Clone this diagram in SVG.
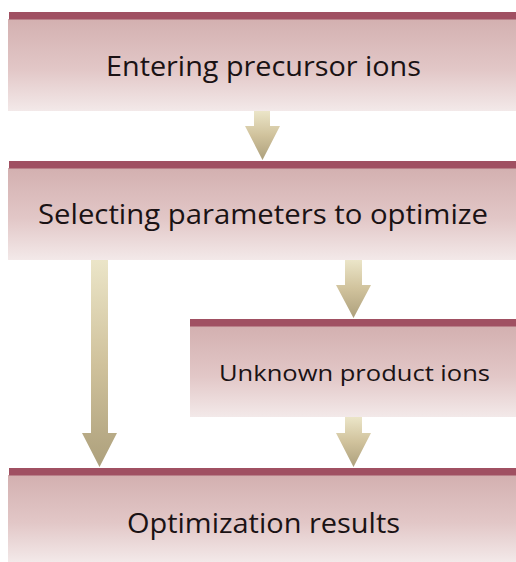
<svg xmlns="http://www.w3.org/2000/svg" width="516" height="562" viewBox="0 0 516 562">
  <defs>
    <linearGradient id="boxFill" x1="0" y1="0" x2="0" y2="1">
      <stop offset="0" stop-color="#d3b0b0"/>
      <stop offset="0.55" stop-color="#e2c7c7"/>
      <stop offset="1" stop-color="#f3e9e9"/>
    </linearGradient>
    <linearGradient id="arrowFill" x1="0" y1="0" x2="0" y2="1">
      <stop offset="0" stop-color="#ebe5c8"/>
      <stop offset="0.5" stop-color="#d0c29c"/>
      <stop offset="1" stop-color="#ada07c"/>
    </linearGradient>
  </defs>
  <style>
    .body { fill: url(#boxFill); }
    .bar { fill: #a05062; }
    .arrow { fill: url(#arrowFill); }
    .label { font-family: "Open Sans", "Noto Sans", sans-serif; fill: #1a1214; text-anchor: middle; }
  </style>
  <rect width="516" height="562" fill="#ffffff"/>

  <g id="connectors">
    <path class="arrow" d="M254,111 H270 V126 H280 L262.5,160 L245,126 H254 Z"/>
    <path class="arrow" d="M91,260 H108 V433 H117 L99.5,467 L82,433 H91 Z"/>
    <path class="arrow" d="M345,260 H362 V285 H371 L353.5,318 L336,285 H345 Z"/>
    <path class="arrow" d="M345,417 H362 V433 H371 L353.5,467 L336,433 H345 Z"/>
  </g>

  <g id="entering-precursor-ions">
    <rect class="body" x="8" y="19" width="508" height="92"/>
    <rect class="bar" x="9" y="12" width="507" height="7.5"/>
    <text class="label" x="263.5" y="75.5" font-size="28" textLength="315" lengthAdjust="spacingAndGlyphs">Entering precursor ions</text>
  </g>

  <g id="selecting-parameters">
    <rect class="body" x="8" y="168" width="508" height="92"/>
    <rect class="bar" x="9" y="161" width="507" height="7.5"/>
    <text class="label" x="263" y="224" font-size="28" textLength="450" lengthAdjust="spacingAndGlyphs">Selecting parameters to optimize</text>
  </g>

  <g id="unknown-product-ions">
    <rect class="body" x="190" y="326" width="326" height="91"/>
    <rect class="bar" x="190" y="319" width="326" height="7.5"/>
    <text class="label" x="354.5" y="381" font-size="22.5" textLength="271" lengthAdjust="spacingAndGlyphs">Unknown product ions</text>
  </g>

  <g id="optimization-results">
    <rect class="body" x="8" y="475" width="508" height="87"/>
    <rect class="bar" x="9" y="468" width="507" height="7.5"/>
    <text class="label" x="263.5" y="532.5" font-size="28" textLength="273" lengthAdjust="spacingAndGlyphs">Optimization results</text>
  </g>
</svg>
